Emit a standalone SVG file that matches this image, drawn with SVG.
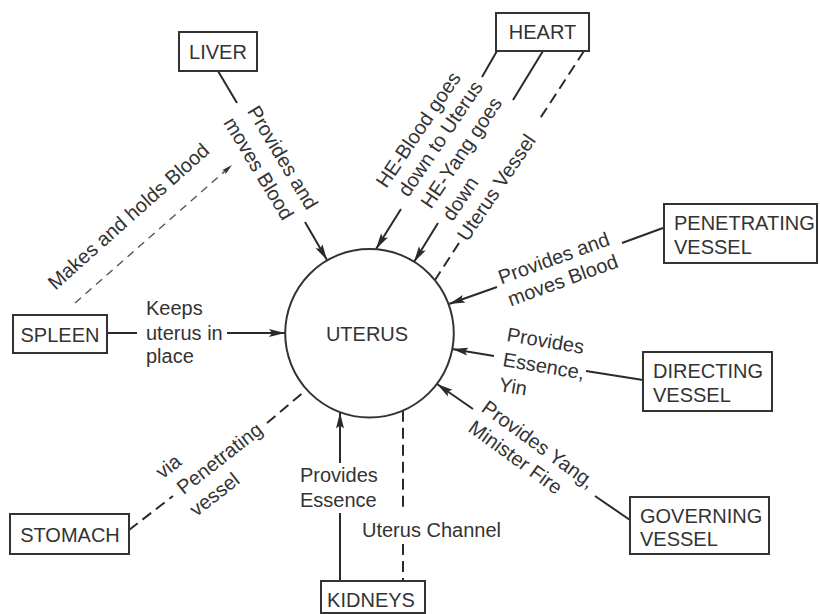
<svg xmlns="http://www.w3.org/2000/svg" width="820" height="614" viewBox="0 0 820 614">
<style>
  text { font-family: "Liberation Sans", Arial, sans-serif; font-size: 20px; fill: #333; }
  .box { fill: #fff; stroke: #333; stroke-width: 2; }
  .ln { fill: none; stroke: #2a2a2a; stroke-width: 2; }
  .dash { fill: none; stroke: #2a2a2a; stroke-width: 2; stroke-dasharray: 11 6; }
  .thin { fill: none; stroke: #555; stroke-width: 1.4; stroke-dasharray: 8 6; }
  .c { text-anchor: middle; }
</style>
<defs>
  <marker id="ah" markerUnits="userSpaceOnUse" viewBox="0 0 16 10" refX="16" refY="5" markerWidth="17" markerHeight="10" orient="auto">
    <path d="M0,1 L16,5 L0,9 L3,5 z" fill="#2a2a2a"/>
  </marker>
  <marker id="ahs" markerUnits="userSpaceOnUse" viewBox="0 0 16 10" refX="16" refY="5" markerWidth="11" markerHeight="7" orient="auto">
    <path d="M0,1 L16,5 L0,9 L3,5 z" fill="#333"/>
  </marker>
</defs>
<rect width="820" height="614" fill="#fff"/>

<g id="connectors">
  <path class="ln" d="M218,71 L237,103 M305,222 L327,260" marker-end="url(#ah)"/>
  <path class="ln" d="M497,51 L482,77 M401,209 L376,249" marker-end="url(#ah)"/>
  <path class="ln" d="M543,51 L513,100 M438,223 L414,262" marker-end="url(#ah)"/>
  <path class="dash" d="M584,51 L539,120 M459,243 L435,280"/>
  <path class="ln" d="M663,228 L622,243 M497,287 L449,304" marker-end="url(#ah)"/>
  <path class="ln" d="M643,380 L586,371 M494,356 L452,349" marker-end="url(#ah)"/>
  <path class="ln" d="M630,520 L595,496 M473,409 L437,384" marker-end="url(#ah)"/>
  <path class="ln" d="M107,333 L137,333 M227,333 L285,333" marker-end="url(#ah)"/>
  <path class="dash" d="M129,530 L173,496 M267,423 L305,391"/>
  <path class="ln" d="M340,581 L340,513 M340,463 L340,412.5" marker-end="url(#ah)"/>
  <path class="dash" d="M403,410.7 L403,508 M403,544 L403,581"/>
  <path class="thin" d="M75,303 L232,165" marker-end="url(#ahs)"/>

  <text transform="translate(282,158) rotate(59)" class="c" y="6">Provides and</text>
  <text transform="translate(258,169) rotate(59)" class="c" y="6">moves Blood</text>
  <text transform="translate(419,130) rotate(-56)" class="c" y="6">HE-Blood goes</text>
  <text transform="translate(441,139) rotate(-56)" class="c" y="6">down to Uterus</text>
  <text transform="translate(462,153) rotate(-56)" class="c" y="6">HE-Yang goes</text>
  <text transform="translate(461,199) rotate(-56)" class="c" y="6">down</text>
  <text transform="translate(497,188) rotate(-56)" class="c" y="6">Uterus Vessel</text>
  <text transform="translate(554,259) rotate(-20)" class="c" y="6">Provides and</text>
  <text transform="translate(563,281) rotate(-20)" class="c" y="6">moves Blood</text>
  <text transform="translate(506,341) rotate(9.5)">Provides</text>
  <text transform="translate(502,366) rotate(9.5)">Essence,</text>
  <text transform="translate(498,391) rotate(9.5)">Yin</text>
  <text transform="translate(538,445) rotate(36)" class="c" y="6">Provides Yang,</text>
  <text transform="translate(515,458) rotate(36)" class="c" y="6">Minister Fire</text>
  <text transform="translate(169,467) rotate(-38)" class="c" y="6">via</text>
  <text transform="translate(220,459) rotate(-38)" class="c" y="6">Penetrating</text>
  <text transform="translate(215,495) rotate(-38)" class="c" y="6">vessel</text>
  <text transform="translate(129,217) rotate(-41.7)" class="c" y="6">Makes and holds Blood</text>
  <text x="146" y="315">Keeps</text>
  <text x="146" y="339.5">uterus in</text>
  <text x="146" y="363">place</text>
  <text x="300" y="482">Provides</text>
  <text x="300" y="506.5">Essence</text>
  <text x="362" y="536.5">Uterus Channel</text>
</g>

<g id="uterus">
  <circle cx="369.5" cy="333.3" r="84.3" fill="none" stroke="#333" stroke-width="2"/>
  <text x="367" y="341" class="c">UTERUS</text>
</g>
<g id="liver">
  <rect class="box" x="179" y="32" width="78" height="39"/>
  <text x="218" y="58.5" class="c">LIVER</text>
</g>
<g id="heart">
  <rect class="box" x="496" y="13" width="93" height="38"/>
  <text x="542.5" y="38.5" class="c">HEART</text>
</g>
<g id="penetrating">
  <rect class="box" x="664" y="204" width="153" height="59"/>
  <text x="674" y="230">PENETRATING</text>
  <text x="674" y="254">VESSEL</text>
</g>
<g id="directing">
  <rect class="box" x="643" y="352" width="129" height="59"/>
  <text x="653" y="378">DIRECTING</text>
  <text x="653" y="401.5">VESSEL</text>
</g>
<g id="governing">
  <rect class="box" x="630" y="497" width="139" height="57"/>
  <text x="640" y="522.5">GOVERNING</text>
  <text x="640" y="546">VESSEL</text>
</g>
<g id="spleen">
  <rect class="box" x="13" y="315" width="94" height="38"/>
  <text x="60" y="341.5" class="c">SPLEEN</text>
</g>
<g id="stomach">
  <rect class="box" x="10" y="514" width="119" height="40"/>
  <text x="70" y="541.5" class="c">STOMACH</text>
</g>
<g id="kidneys">
  <rect class="box" x="321" y="581" width="104" height="32"/>
  <text x="371" y="607" class="c">KIDNEYS</text>
</g>
</svg>
